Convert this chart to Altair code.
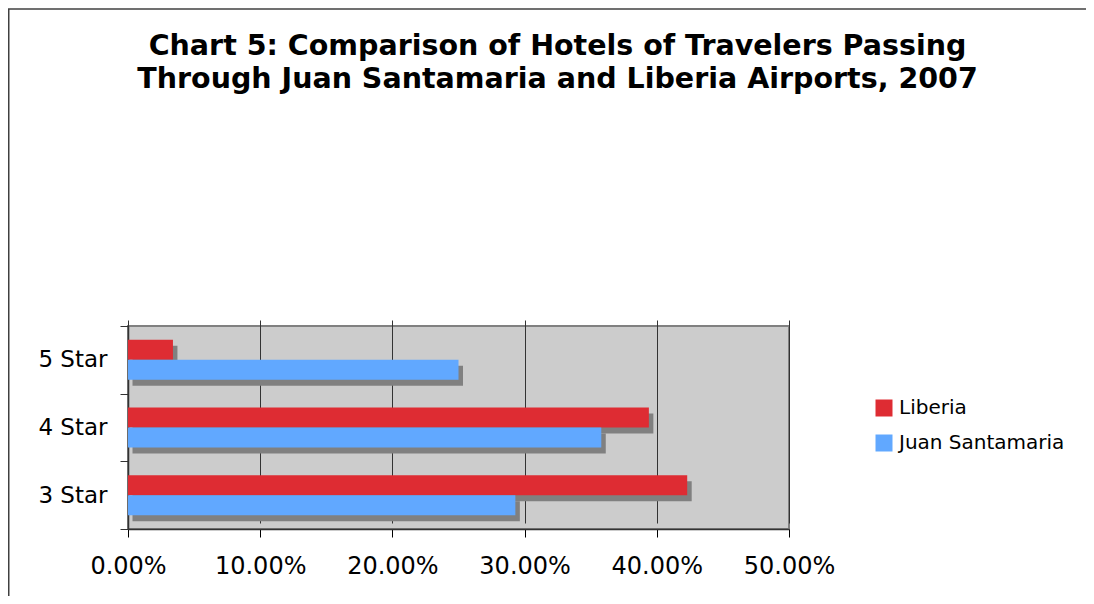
import altair as alt
import pandas as pd

categories = ["5 Star", "4 Star", "3 Star"]
series = ["Liberia", "Juan Santamaria"]
liberia = [0.034, 0.394, 0.423]
juan = [0.250, 0.358, 0.293]
tick_values = [0.0, 0.1, 0.2, 0.3, 0.4, 0.5]

rows = []
for c, l, j in zip(categories, liberia, juan):
    rows.append({"category": c, "series": "Liberia", "value": l})
    rows.append({"category": c, "series": "Juan Santamaria", "value": j})
df = pd.DataFrame(rows)

FONT = "DejaVu Sans"
PLOT_H = 203

y_axis = alt.Axis(
    tickBand="extent",
    labelFontSize=23,
    labelFont=FONT,
    labelColor="#000000",
    labelPadding=13,
    tickSize=8,
    tickColor="#333333",
    domainColor="#333333",
    domainWidth=1.5,
    grid=False,
)
y_enc = alt.Y(
    "category:N",
    sort=categories,
    title=None,
    scale=alt.Scale(paddingInner=0, paddingOuter=0),
    axis=y_axis,
)
y_shadow = alt.Y(
    "category:N",
    sort=categories,
    title=None,
    scale=alt.Scale(paddingInner=0, paddingOuter=0, range=[6, PLOT_H + 6]),
    axis=None,
)
yoff_enc = alt.YOffset(
    "series:N",
    sort=series,
    scale=alt.Scale(paddingInner=0, paddingOuter=0.69),
)
x_enc = alt.X(
    "value:Q",
    title=None,
    scale=alt.Scale(domain=[0, 0.5], nice=False),
    axis=alt.Axis(
        values=tick_values,
        format=".2%",
        labelFontSize=24,
        labelFont=FONT,
        labelColor="#000000",
        labelPadding=17,
        labelFlush=False,
        labelOverlap=False,
        tickSize=8,
        tickColor="#000000",
        domainColor="#333333",
        domainWidth=1.5,
        grid=True,
        gridColor="#333333",
        gridWidth=1,
        gridOpacity=1,
    ),
)

base = alt.Chart(df)

shadow = base.mark_bar(color="#808080", xOffset=4.5).encode(
    x=x_enc, y=y_shadow, yOffset=yoff_enc
)

bars = base.mark_bar().encode(
    x=x_enc,
    y=y_enc,
    yOffset=yoff_enc,
    color=alt.Color(
        "series:N",
        sort=series,
        scale=alt.Scale(domain=series, range=["#DE2C33", "#61A8FF"]),
        legend=alt.Legend(
            title=None,
            orient="none",
            legendX=746,
            legendY=72,
            symbolType="square",
            symbolSize=289,
            symbolStrokeWidth=0,
            symbolOpacity=1,
            labelFontSize=20,
            labelFont=FONT,
            labelColor="#000000",
            labelOffset=5,
            labelLimit=400,
            rowPadding=15,
            padding=0,
        ),
    ),
)

one = pd.DataFrame({"a": [0]})
frame_top = alt.Chart(one).mark_rule(color="#404040", strokeWidth=1.5).encode(
    x=alt.value(-120), x2=alt.value(2000), y=alt.value(-317)
)
frame_left = alt.Chart(one).mark_rule(color="#404040", strokeWidth=1.5).encode(
    x=alt.value(-119.25), y=alt.value(-317), y2=alt.value(1000)
)

chart = alt.layer(frame_top, frame_left, shadow, bars).resolve_scale(y="independent").properties(
    width=661,
    height=PLOT_H,
    autosize=alt.AutoSizeParams(type="none"),
    padding={"left": 120, "top": 318, "right": 297, "bottom": 67},
    title=alt.TitleParams(
        text=[
            "Chart 5: Comparison of Hotels of Travelers Passing",
            "Through Juan Santamaria and Liberia Airports, 2007",
        ],
        anchor="middle",
        frame="group",
        dx=99,
        offset=-85,
        baseline="top",
        fontSize=28.5,
        font=FONT,
        fontWeight="bold",
        lineHeight=33,
        color="#000000",
    ),
).configure(background="#FFFFFF").configure_view(
    fill="#CCCCCC", stroke="#808080", strokeWidth=2
)

chart.save("out.html", embed_options={"renderer": "svg", "actions": False})
